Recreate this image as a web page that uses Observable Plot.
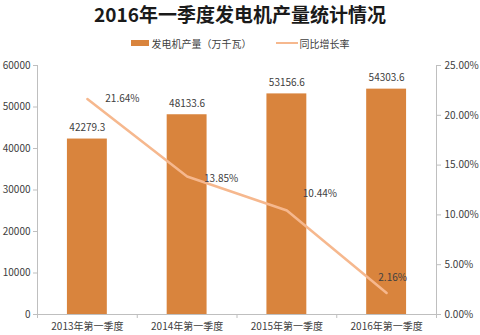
<!DOCTYPE html>
<html>
<head>
<meta charset="utf-8">
<script src="https://cdn.jsdelivr.net/npm/d3@7"></script>
<script src="https://cdn.jsdelivr.net/npm/@observablehq/plot@0.6"></script>
<style>
  html, body { margin: 0; padding: 0; background: #fff; }
  body { width: 480px; height: 335px; overflow: hidden; font-family: "Noto Sans CJK SC", "Noto Sans", sans-serif; color: #404040; }
  #title { height: 28px; line-height: 28px; text-align: center; font-size: 19px; font-weight: bold; color: #1a1a1a; }
  #legend { height: 27px; display: flex; justify-content: center; align-items: center; font-size: 10px; color: #404040; padding-top: 3px; box-sizing: border-box; }
  .sw-bar { display: inline-block; width: 18px; height: 6px; background: #D9843D; margin-right: 3px; }
  .sw-line { display: inline-block; width: 22px; height: 2px; background: #F6B88E; margin-right: 2px; }
  .item { display: flex; align-items: center; margin: 0 12px; }
</style>
</head>
<body>
<div id="title">2016年一季度发电机产量统计情况</div>
<div id="legend">
  <span class="item"><span class="sw-bar"></span>发电机产量（万千瓦）</span>
  <span class="item"><span class="sw-line"></span>同比增长率</span>
</div>
<div id="chart"></div>
<script>
const categories = ["2013年第一季度", "2014年第一季度", "2015年第一季度", "2016年第一季度"];
const output = [42279.3, 48133.6, 53156.6, 54303.6];
const growth = [21.64, 13.85, 10.44, 2.16];
const leftTicks = [0, 10000, 20000, 30000, 40000, 50000, 60000];
const rightTicks = [0, 5, 10, 15, 20, 25];

const yMax = 60000, pMax = 25;
const toY = p => p / pMax * yMax;

const data = categories.map((c, i) => ({i, cat: c, value: output[i], pct: growth[i], py: toY(growth[i])}));

const axisColor = "#BFBFBF";
const textColor = "#404040";
const font = "Noto Sans CJK SC, Noto Sans, sans-serif";

const lineLabel = (idx, dx, dy) => Plot.text(data.filter(d => d.i === idx), {
  x: "i", y: "py", text: d => d.pct.toFixed(2) + "%", dx, dy,
  fontSize: 10, fill: textColor
});

const chart = Plot.plot({
  width: 480,
  height: 280,
  marginLeft: 37,
  marginRight: 44,
  marginTop: 10,
  marginBottom: 21,
  style: {fontFamily: font, fontSize: "10px", color: textColor, background: "#fff"},
  x: {type: "linear", domain: [-0.5, categories.length - 0.5]},
  y: {domain: [0, yMax]},
  marks: [
    Plot.rectY(data, {x1: d => d.i - 0.2, x2: d => d.i + 0.2, y1: 0, y2: "value", fill: "#D9843D"}),
    Plot.text(data, {x: "i", y: "value", text: d => d.value.toFixed(1), dy: -11, fontSize: 10, fill: textColor}),
    Plot.line(data, {x: "i", y: "py", stroke: "#F6B88E", strokeWidth: 2.5}),
    lineLabel(0, 35, 0),
    lineLabel(1, 34, 2),
    lineLabel(2, 33, -17),
    lineLabel(3, 6, -15),
    Plot.ruleY([0], {stroke: axisColor}),
    Plot.ruleX([-0.5], {stroke: axisColor}),
    Plot.ruleX([categories.length - 0.5], {stroke: axisColor}),
    Plot.axisY({anchor: "left", ticks: leftTicks, tickFormat: d => String(d), tickSize: 4, tickPadding: 3, stroke: axisColor, color: textColor, label: null}),
    Plot.axisY({anchor: "right", ticks: rightTicks.map(toY), tickFormat: d => (d / yMax * pMax).toFixed(2) + "%", tickSize: 4, tickPadding: 4, stroke: axisColor, color: textColor, label: null}),
    Plot.axisX({ticks: d3.range(categories.length + 1).map(k => k - 0.5), tickFormat: () => "", tickSize: 4, stroke: axisColor, label: null}),
    Plot.axisX({ticks: d3.range(categories.length), tickFormat: k => categories[k], tickSize: 0, tickPadding: 8, color: textColor, label: null, fontSize: 10})
  ]
});
document.getElementById("chart").appendChild(chart);
</script>
</body>
</html>
